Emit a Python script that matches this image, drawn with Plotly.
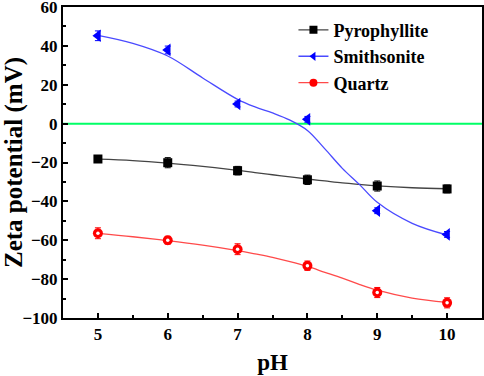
import plotly.graph_objects as go

# ---- data ----
ph = [5, 6, 7, 8, 9, 10]
pyro = [-18.2, -20.1, -24.2, -28.9, -32.1, -33.6]
pyro_err = [1.8, 2.6, 2.2, 2.4, 2.6, 2.0]
smith = [45.2, 37.9, 10.1, 2.2, -44.8, -57.0]
smith_err = [2.5, 2.0, 1.5, 1.5, 1.5, 1.5]
quartz = [-56.4, -60.0, -64.6, -73.1, -86.9, -92.2]
quartz_err = [2.8, 2.0, 2.8, 2.4, 2.6, 2.6]

# fitted curves
fit_x = [5, 5.5, 6, 6.5, 7, 7.25, 7.5, 7.75, 8, 8.25, 8.5, 8.75, 9, 9.5, 10]
pyro_fit = [-18.3, -19.0, -20.3, -22.0, -24.0, -25.2, -26.3, -27.4, -28.5, -29.5, -30.5, -31.3, -32.0, -33.0, -33.5]
smith_fit = [45.4, 41.3, 34.8, 23.5, 12.5, 8.6, 5.5, 1.8, -3.5, -13.0, -23.0, -31.5, -40.5, -51.3, -57.3]
quartz_fit = [-56.5, -58.2, -60.2, -62.5, -65.3, -67.0, -68.8, -71.0, -73.5, -76.5, -79.5, -82.8, -85.7, -89.8, -92.0]

x_ticks = [5, 6, 7, 8, 9, 10]
y_ticks = [-100, -80, -60, -40, -20, 0, 20, 40, 60]

FONT = "Liberation Serif"
names = ["Pyrophyllite", "Smithsonite", "Quartz"]
line_cols = ["#444444", "#4a4aff", "#ff4a4a"]
mk_cols = ["black", "#0000ff", "#ff0000"]
symbols = ["square", "triangle-left", "circle"]
sizes = [9, 11, 10]

fig = go.Figure()

# zero line
fig.add_hline(y=0, line=dict(color="#00ff66", width=2), layer="below")

for fx, fy, col in [(fit_x, pyro_fit, line_cols[0]), (fit_x, smith_fit, line_cols[1]), (fit_x, quartz_fit, line_cols[2])]:
    fig.add_trace(go.Scatter(x=fx, y=fy, mode="lines", line=dict(color=col, width=1.3, shape="spline", smoothing=1.0),
                             showlegend=False, hoverinfo="skip"))

for ys, es, mc, sym, sz in [(pyro, pyro_err, mk_cols[0], symbols[0], sizes[0]),
                             (smith, smith_err, mk_cols[1], symbols[1], sizes[1]),
                             (quartz, quartz_err, mk_cols[2], symbols[2], sizes[2])]:
    fig.add_trace(go.Scatter(x=ph, y=ys, mode="markers",
                             marker=dict(symbol=sym, size=sz, color=mc, line=dict(width=0)),
                             error_y=dict(type="data", array=es, color=mc, thickness=1, width=3),
                             showlegend=False))

# white highlight dots in quartz spheres
fig.add_trace(go.Scatter(x=ph, y=quartz, mode="markers",
                         marker=dict(symbol="circle", size=3.5, color="white"), showlegend=False, hoverinfo="skip"))

# legend entries
for nm, lc, mc, sym in zip(names, line_cols, mk_cols, symbols):
    fig.add_trace(go.Scatter(x=[None], y=[None], mode="lines+markers", name=nm,
                             line=dict(color=lc, width=1.3),
                             marker=dict(symbol=sym, size=8, color=mc)))

axis_common = dict(showline=True, linecolor="black", linewidth=2, mirror=True,
                   ticks="inside", ticklen=5, tickwidth=1.5, tickcolor="black",
                   showgrid=False, zeroline=False, automargin=False, ticklabeloverflow="allow",
                   tickfont=dict(family=FONT, size=17, color="black", weight="bold"))

fig.update_xaxes(range=[4.5, 10.5], tickvals=x_ticks,
                 minor=dict(ticks="inside", ticklen=3, tickwidth=1.5, tickcolor="black", dtick=0.5, tick0=0.5),
                 title=dict(text="<b>pH</b>", font=dict(family=FONT, size=23, color="black"), standoff=10),
                 **axis_common)
fig.update_yaxes(range=[-100, 60], tickvals=y_ticks,
                 minor=dict(ticks="inside", ticklen=3, tickwidth=1.5, tickcolor="black", dtick=10, tick0=0),
                 title=dict(text="<b>Zeta potential (mV)</b>", font=dict(family=FONT, size=25, color="black"), standoff=2),
                 **axis_common)

fig.update_layout(
    width=484, height=376,
    margin=dict(l=63, r=2, t=7, b=58),
    plot_bgcolor="white", paper_bgcolor="white",
    legend=dict(x=0.55, y=0.985, xanchor="left", yanchor="top", bgcolor="rgba(0,0,0,0)",
                font=dict(family=FONT, size=18, color="black", weight="bold"),
                itemwidth=30, tracegroupgap=0),
)

post = ("document.body.style.margin='0';document.body.style.padding='0';"
        "document.documentElement.style.overflow='hidden';"
        "var st=document.createElement('style');st.textContent='.modebar-container{display:none !important;}';"
        "document.head.appendChild(st);"
        "var gd=document.getElementById('{plot_id}');"
        "Plotly.relayout(gd,{width:484,height:376});")

fig.write_html("out.html", post_script=post, config={"responsive": False})
